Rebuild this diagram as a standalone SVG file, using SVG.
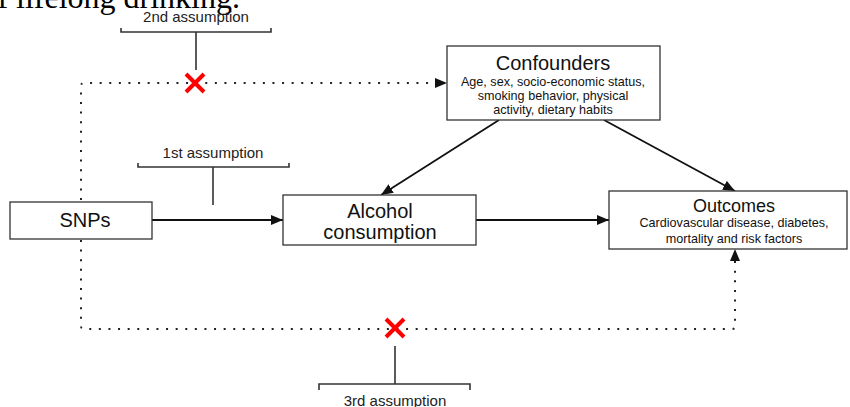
<svg xmlns="http://www.w3.org/2000/svg" width="850" height="407" viewBox="0 0 850 407">
<style>
.box{fill:#fff;stroke:#333;stroke-width:1.3}
.t{font-family:"Liberation Sans",Arial,sans-serif;fill:#111;text-anchor:middle}
.big{font-size:20px}
.sm{font-size:12.6px}
.lbl{font-size:15px;fill:#222}
.edge{stroke:#111;stroke-width:1.8;fill:none}
.dot{stroke:#222;stroke-width:2;fill:none;stroke-dasharray:2 7.6}
.br{stroke:#333;stroke-width:1.6;fill:none}
.x{stroke:#f00;stroke-width:4;stroke-linecap:butt}
</style>
<defs>
<marker id="ah" viewBox="0 0 12 10" refX="12" refY="5" markerWidth="12" markerHeight="10" markerUnits="userSpaceOnUse" orient="auto">
<path d="M0,0 L12,5 L0,10 Z" fill="#111"/>
</marker>
</defs>
<text x="240" y="8" font-family="Liberation Serif,Times New Roman,serif" font-size="32" text-anchor="end" fill="#000">of lifelong drinking.</text>

<g id="connectors">
<line class="edge" x1="152" y1="220" x2="283" y2="220" marker-end="url(#ah)"/>
<line class="edge" x1="476" y1="220" x2="609" y2="220" marker-end="url(#ah)"/>
<line class="edge" x1="499" y1="120" x2="381" y2="195" marker-end="url(#ah)"/>
<line class="edge" x1="604" y1="120" x2="735" y2="191" marker-end="url(#ah)"/>
<path class="dot" d="M81,200 L81,86 Q81,83 84,83 L445,83"/>
<path d="M435,78 L447,83 L435,88 Z" fill="#111"/>
<path class="dot" d="M81,240 L81,326 Q81,329 84,329 L732,329 Q735,329 735,326 L735,260"/>
<path d="M730,261 L735,249 L740,261 Z" fill="#111"/>
</g>

<g id="assumption2">
<path class="br" d="M121,28 L121,32 L271,32 L271,28 M196,32 L196,70"/>
<text class="t lbl" x="196" y="22">2nd assumption</text>
<path class="x" d="M186,74 L204,92 M204,74 L186,92"/>
</g>
<g id="assumption1">
<path class="br" d="M138,163 L138,167 L289,167 L289,163 M213,167 L213,205"/>
<text class="t lbl" x="213" y="158">1st assumption</text>
</g>
<g id="assumption3">
<path class="x" d="M386,319 L404,337 M404,319 L386,337"/>
<path class="br" d="M395,346 L395,384 M319,390 L319,384 L470,384 L470,390"/>
<text class="t lbl" x="395" y="406">3rd assumption</text>
</g>

<g id="snps">
<rect class="box" x="10" y="202" width="142" height="37"/>
<text class="t big" x="85" y="227">SNPs</text>
</g>
<g id="alcohol">
<rect class="box" x="283" y="195" width="193" height="50"/>
<text class="t big" x="380" y="218">Alcohol</text>
<text class="t big" x="380" y="239">consumption</text>
</g>
<g id="confounders">
<rect class="box" x="447" y="46" width="213" height="74"/>
<text class="t big" x="553" y="70">Confounders</text>
<text class="t sm" x="553" y="85.5">Age, sex, socio-economic status,</text>
<text class="t sm" x="553" y="99.5">smoking behavior, physical</text>
<text class="t sm" x="553" y="113.5">activity, dietary habits</text>
</g>
<g id="outcomes">
<rect class="box" x="609" y="191" width="238" height="58"/>
<text class="t" style="font-size:18px" x="734" y="212">Outcomes</text>
<text class="t sm" x="734" y="227">Cardiovascular disease, diabetes,</text>
<text class="t sm" x="734" y="243">mortality and risk factors</text>
</g>
</svg>
